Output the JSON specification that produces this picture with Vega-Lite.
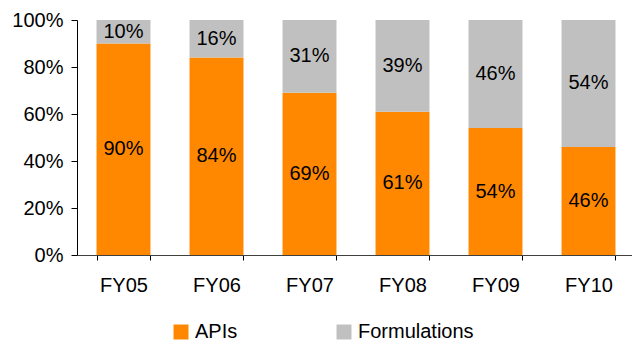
{
  "$schema": "https://vega.github.io/schema/vega-lite/v6.json",
  "autosize": {"type": "none"},
  "padding": {"left": 77, "top": 20, "right": 0, "bottom": 92},
  "width": 555,
  "height": 235,
  "background": "white",
  "config": {
    "font": "Liberation Sans",
    "view": {"stroke": null},
    "axis": {"labelFont": "Liberation Sans", "labelFontSize": 20, "labelColor": "#000", "domainColor": "#000", "tickColor": "#000", "grid": false, "title": null}
  },
  "data": {
    "values": [
      {"year": "FY05", "segment": "APIs", "share": 0.90},
      {"year": "FY05", "segment": "Formulations", "share": 0.10},
      {"year": "FY06", "segment": "APIs", "share": 0.84},
      {"year": "FY06", "segment": "Formulations", "share": 0.16},
      {"year": "FY07", "segment": "APIs", "share": 0.69},
      {"year": "FY07", "segment": "Formulations", "share": 0.31},
      {"year": "FY08", "segment": "APIs", "share": 0.61},
      {"year": "FY08", "segment": "Formulations", "share": 0.39},
      {"year": "FY09", "segment": "APIs", "share": 0.54},
      {"year": "FY09", "segment": "Formulations", "share": 0.46},
      {"year": "FY10", "segment": "APIs", "share": 0.46},
      {"year": "FY10", "segment": "Formulations", "share": 0.54}
    ]
  },
  "encoding": {
    "x": {
      "field": "year", "type": "nominal", "sort": null,
      "scale": {"range": [0, 558], "paddingInner": 0.42, "paddingOuter": 0.21},
      "axis": {"labelAngle": 0, "tickBand": "extent", "tickSize": 5, "labelPadding": 15, "domainColor": "#404040"}
    }
  },
  "layer": [
    {
      "mark": {"type": "bar"},
      "encoding": {
        "y": {
          "field": "share", "type": "quantitative", "stack": "zero",
          "scale": {"domain": [0, 1], "nice": false},
          "axis": {"format": ".0%", "values": [0, 0.2, 0.4, 0.6, 0.8, 1], "tickSize": 6, "labelPadding": 8}
        },
        "color": {
          "field": "segment", "type": "nominal",
          "scale": {"domain": ["APIs", "Formulations"], "range": ["#FF8800", "#C0C0C0"]},
          "legend": {
            "title": null, "orient": "none", "direction": "horizontal", "columns": 2,
            "legendX": 94, "legendY": 302, "padding": 0,
            "symbolType": "square", "symbolSize": 225, "symbolStrokeWidth": 0, "symbolOpacity": 1,
            "labelFont": "Liberation Sans", "labelFontSize": 20, "labelColor": "#000",
            "labelOffset": 4, "columnPadding": 96
          }
        },
        "order": {"field": "segment", "sort": "ascending"}
      }
    },
    {
      "mark": {"type": "text", "font": "Liberation Sans", "fontSize": 20, "color": "#000", "baseline": "middle"},
      "encoding": {
        "y": {"field": "share", "type": "quantitative", "stack": "zero", "bandPosition": 0.5},
        "detail": {"field": "segment"},
        "order": {"field": "segment", "sort": "ascending"},
        "text": {"field": "share", "type": "quantitative", "format": ".0%"}
      }
    }
  ]
}
